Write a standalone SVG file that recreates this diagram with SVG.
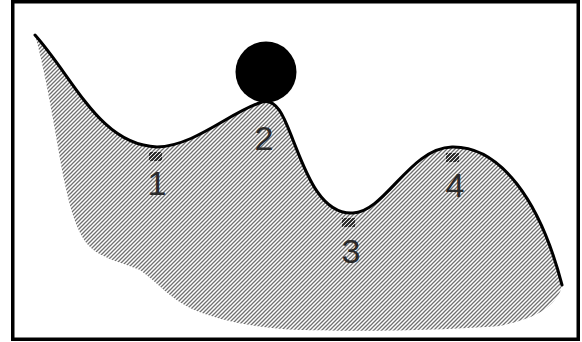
<svg xmlns="http://www.w3.org/2000/svg" width="582" height="342" viewBox="0 0 582 342">
<defs>
<pattern id="hatch" patternUnits="userSpaceOnUse" width="4" height="4">
<path d="M-1,1 L1,-1 M0,4 L4,0 M3,5 L5,3" stroke="#707070" stroke-width="1.3"/>
</pattern>
<pattern id="hatchDark" patternUnits="userSpaceOnUse" width="4" height="4">
<path d="M-1,1 L1,-1 M0,4 L4,0 M3,5 L5,3" stroke="#1a1a1a" stroke-width="1.8"/>
</pattern>
<style>
.lbl{font-family:"Liberation Sans",Arial,sans-serif;font-size:34px;fill:#2a2a2a;text-anchor:middle}
.mark{fill:url(#hatchDark)}
</style>
</defs>
<rect x="0" y="0" width="582" height="342" fill="#fff"/>
<rect x="12.75" y="1.75" width="565.5" height="337.5" fill="none" stroke="#000" stroke-width="3.5"/>
<g id="ground">
<path d="M35,35 C75,80 100,145 157,147 C195,146 230,112 262,102 C278,98 285,120 293,140 C305,170 320,215 353,213 C385,212 410,148 452,147 C500,146 540,200 562,285 L560,292 C550,310 535,318 500,326 C420,332 330,331 300,330 C260,328 220,322 190,308 C170,298 160,285 140,270 C120,262 100,258 88,245 C75,230 68,200 62,170 C55,130 45,70 35,35 Z" fill="url(#hatch)"/>
<path d="M35,35 C75,80 100,145 157,147 C195,146 230,112 262,102 C278,98 285,120 293,140 C305,170 320,215 353,213 C385,212 410,148 452,147 C500,146 540,200 562,285" fill="none" stroke="#000" stroke-width="3" stroke-linecap="round"/>
</g>
<circle id="ball" cx="266" cy="72" r="30.5" fill="#000"/>
<g id="p1"><rect class="mark" x="149" y="152" width="13" height="9"/><text class="lbl" x="157" y="195">1</text></g>
<g id="p2"><text class="lbl" x="264" y="150">2</text></g>
<g id="p3"><rect class="mark" x="342" y="218" width="13" height="9"/><text class="lbl" x="351" y="263">3</text></g>
<g id="p4"><rect class="mark" x="446" y="153" width="13" height="9"/><text class="lbl" x="455" y="197">4</text></g>
</svg>
